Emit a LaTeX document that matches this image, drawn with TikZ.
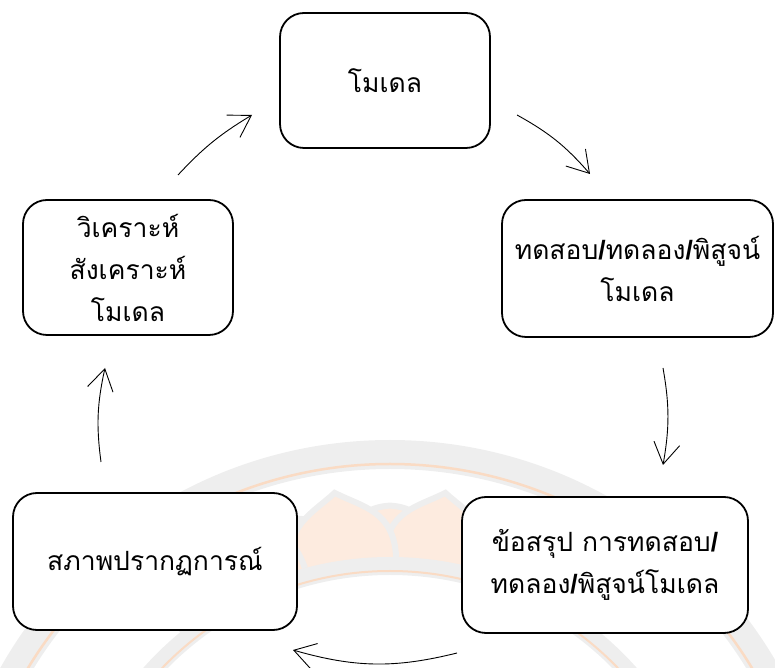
\documentclass[tikz,border=0pt]{standalone}
\usepackage{fontspec}
\newfontfamily\thaifont[Script=Thai]{Loma}
\newfontfamily\slashfont{Liberation Sans}
\newcommand{\tslash}{{\slashfont\bfseries/}}
\usetikzlibrary{arrows.meta}
\definecolor{wmgray}{HTML}{EEEEEE}
\definecolor{wmpeach}{HTML}{FDEBDF}
\definecolor{wmorange}{HTML}{FADBC4}

\begin{document}
\begin{tikzpicture}[x=1pt,y=1pt,
	box/.style={rounded corners=24pt, draw, line width=1.8pt, fill=white, align=center,
		font=\thaifont\fontsize{26.5}{42}\selectfont},
	flow/.style={line width=0.9pt, -{Straight Barb[length=21pt,width=26pt]}}]
	\useasboundingbox (0,0) rectangle (775,668);
	\begin{scope}
		\clip (0,0) rectangle (775,668);
		\fill[wmgray, even odd rule] (390,-219) circle (447) (390,-219) circle (418);
		\draw[wmorange, line width=2.5pt] (390,-219) circle (423);
		\foreach \a/\s in {58/0.77, 74/0.77, 90/0.77, 106/0.77, 122/0.77, 66/1, 82/1, 98/1, 114/1}
			\draw[wmgray, line width=6pt, fill=wmpeach, shift={(390,-219)}, rotate=\a-90]
				(-52*\s,326) .. controls (-56*\s,372) and (-26*\s,380) .. (0,326+72*\s)
				.. controls (26*\s,380) and (56*\s,372) .. (52*\s,326);
		\fill[wmgray, even odd rule] (390,-219) circle (330) (390,-219) circle (312);
		\draw[wmorange, line width=2pt] (390,-219) circle (316);
	\end{scope}
	\node (M) at (385, 587.5)	[box, minimum width=210, minimum height=135]	{โมเดล};
	\node (T) at (637.5, 399.5)	[box, minimum width=271, minimum height=137]	{ทดสอบ\tslash ทดลอง\tslash พิสูจน์\\โมเดล};
	\node (C) at (605, 103)	[box, minimum width=286, minimum height=136]	{ข้อสรุป การทดสอบ\tslash\\ทดลอง\tslash พิสูจน์โมเดล};
	\node (P) at (155, 106.5)	[box, minimum width=284, minimum height=137]	{สภาพปรากฏการณ์};
	\node (A) at (128, 400.5)	[box, minimum width=210, minimum height=135]	{วิเคราะห์\\สังเคราะห์\\โมเดล};
	\coordinate (a1) at (178,493);	\coordinate (b1) at (252,553);
	\coordinate (a2) at (517,553);	\coordinate (b2) at (590,494);
	\coordinate (a3) at (663,300);	\coordinate (b3) at (663,203);
	\coordinate (a4) at (457,15);	\coordinate (b4) at (293,18);
	\coordinate (a5) at (101,206);	\coordinate (b5) at (105,300);
	\draw[flow] (a1) to[bend left=8] (b1);
	\draw[flow] (a2) to[bend left=10] (b2);
	\draw[flow] (a3) to[bend left=10] (b3);
	\draw[flow] (a4) to[bend left=15] (b4);
	\draw[flow] (a5) to[bend left=10] (b5);
\end{tikzpicture}
\end{document}
